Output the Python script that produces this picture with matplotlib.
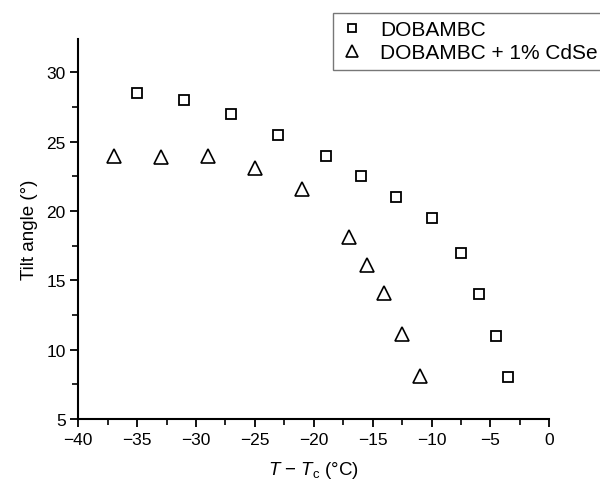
import matplotlib
matplotlib.use("Agg")
import matplotlib.pyplot as plt
from matplotlib.ticker import MultipleLocator

plt.rcParams["font.family"] = ["Liberation Sans", "DejaVu Sans"]
plt.rcParams["mathtext.fontset"] = "custom"
plt.rcParams["mathtext.it"] = "Liberation Sans:italic"
plt.rcParams["mathtext.rm"] = "Liberation Sans"
plt.rcParams["axes.unicode_minus"] = True

# DOBAMBC (squares)
pure_x = [-35, -31, -27, -23, -19, -16, -13, -10, -7.5, -6, -4.5, -3.5]
pure_y = [28.5, 28, 27, 25.5, 24, 22.5, 21, 19.5, 17, 14, 11, 8]

# DOBAMBC + 1% CdSe (triangles)
dope_x = [-37, -33, -29, -25, -21, -17, -15.5, -14, -12.5, -11]
dope_y = [24, 23.9, 24, 23.1, 21.6, 18.1, 16.1, 14.1, 11.1, 8.1]

fig = plt.figure(figsize=(6, 4.81), dpi=100)
ax = fig.add_axes([0.1305, 0.1268, 0.785, 0.79])

ax.plot(pure_x, pure_y, ls="none", marker="s", ms=7, mfc="white",
        mec="black", mew=1.3, label="DOBAMBC")
ax.plot(dope_x, dope_y, ls="none", marker="^", ms=10, mfc="white",
        mec="black", mew=1.2, label="DOBAMBC + 1% CdSe")

ax.set_xlim(-40, 0)
ax.set_ylim(5, 32.4)
ax.xaxis.set_major_locator(MultipleLocator(5))
ax.xaxis.set_minor_locator(MultipleLocator(2.5))
ax.yaxis.set_major_locator(MultipleLocator(5))
ax.yaxis.set_minor_locator(MultipleLocator(2.5))

for side in ["top", "right"]:
    ax.spines[side].set_visible(False)
for side in ["left", "bottom"]:
    ax.spines[side].set_linewidth(1.5)

ax.tick_params(which="major", direction="out", length=6, width=1.3,
               labelsize=12.5, colors="black", pad=3)
ax.tick_params(which="minor", direction="out", length=4, width=1.2)

ax.set_xlabel("$T$ \u2212 $T_\\mathrm{c}$ (\u00b0C)", fontsize=13.5, labelpad=9)
ax.set_ylabel("Tilt angle (\u00b0)", fontsize=13.5, labelpad=6)

leg = fig.legend(loc="upper left", bbox_to_anchor=(333 / 600, 1 - 14 / 481),
                 borderaxespad=0, fontsize=15, frameon=True, fancybox=False,
                 handletextpad=0.8, borderpad=0.35, labelspacing=0.2,
                 handlelength=1.1, markerscale=0.85)
leg.get_frame().set_edgecolor("#555555")
leg.get_frame().set_linewidth(1.0)

fig.savefig("out.png", dpi=100)
